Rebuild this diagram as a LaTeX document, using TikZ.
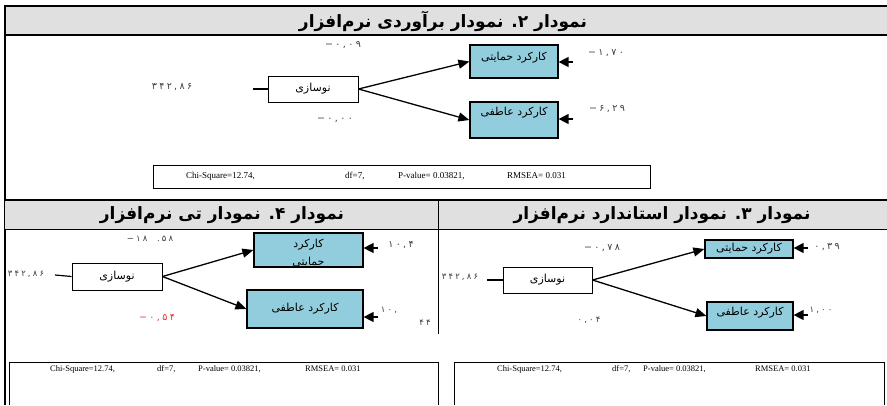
\documentclass[tikz,border=0pt]{standalone}
\usepackage{fontspec}
\usetikzlibrary{arrows.meta}
\TeXXeTstate=1
\newfontfamily\fa[Script=Arabic]{DejaVu Sans}
\newfontfamily\faNum[LetterSpace=25]{DejaVu Sans}
\newfontfamily\stat{Liberation Serif}
\definecolor{barfill}{RGB}{224,224,224}
\definecolor{boxblue}{RGB}{146,205,221}
\definecolor{numgray}{RGB}{60,60,60}
\definecolor{numred}{RGB}{225,50,50}
\begin{document}
\begin{tikzpicture}[x=1pt,y=-1pt,
    whitebox/.style={draw,fill=white,line width=1pt,inner sep=0pt,font=\fa\fontsize{11}{13}\selectfont},
    bluebox/.style={draw,fill=boxblue,line width=1.2pt,inner sep=0pt,align=center,font=\fa\fontsize{11}{18}\selectfont},
    est/.style={inner sep=0pt,text=numgray,font=\faNum\fontsize{8.5}{10}\selectfont},
    fitstat/.style={inner sep=0pt,anchor=west,font=\stat\fontsize{9}{10}\selectfont},
    bartitle/.style={inner sep=0pt,font=\fa\bfseries\fontsize{17}{20}\selectfont},
    effect/.style={line width=1.3pt,-{Triangle[length=11pt,width=9pt]}},
    inarrow/.style={line width=1.3pt,-{Triangle[length=10pt,width=10pt]}}]
  \useasboundingbox (0,0) rectangle (887,405);
  % frame and title bars
  \fill[barfill] (5,6) rectangle (887,35);
  \draw[line width=2.5pt] (4,6) -- (887,6);
  \draw[line width=1.5pt] (5,35) -- (887,35);
  \draw[line width=1.3pt] (5,5) -- (5,405);
  \fill[barfill] (5,200) rectangle (887,229);
  \draw[line width=1.5pt] (5,200) -- (887,200);
  \draw[line width=1pt] (5,229) -- (887,229);
  \draw[line width=1pt] (438,200) -- (438,334);
  \draw[line width=1pt] (9,405) -- (9,362) -- (438,362) -- (438,405);
  \draw[line width=1pt] (454,405) -- (454,362) -- (884,362) -- (884,405);
  \node[bartitle] (t-title) at (443,21) {\beginR نمودار ۲. نمودار برآوردی نرم^^^^200cافزار\endR};
  \node[bartitle] (l-title) at (222,215) {\beginR نمودار ۴. نمودار تی نرم^^^^200cافزار\endR};
  \node[bartitle] (r-title) at (662,215) {\beginR نمودار ۳. نمودار استاندارد نرم^^^^200cافزار\endR};

  % top diagram
  \node[whitebox,minimum width=90pt,minimum height=26pt] (t-n) at (313,89) {نوسازی};
  \node[bluebox,minimum width=88pt,text height=15pt,text depth=18pt] (t-h) at (514,61.5) {\beginR کارکرد حمایتی\endR};
  \node[bluebox,minimum width=88pt,text height=13pt,text depth=23pt] (t-a) at (514,120) {\beginR کارکرد عاطفی\endR};
  \coordinate (t-nin) at (253,89);
  \coordinate (t-hin) at (573,62);
  \coordinate (t-ain) at (573,119);
  \draw[line width=1.2pt] (t-nin) -- (t-n.west);
  \draw[effect] (t-n.east) -- (t-h.west);
  \draw[effect] (t-n.east) -- (t-a.west);
  \draw[inarrow] (t-hin) -- (t-hin -| t-h.east);
  \draw[inarrow] (t-ain) -- (t-ain -| t-a.east);
  \node[est,font=\faNum\fontsize{9.5}{11}\selectfont] (t-v) at (172,87) {۳۴۲,۸۶};
  \node[est,font=\faNum\fontsize{9.5}{11}\selectfont] (t-p1) at (343,45) {−۰,۰۹};
  \node[est,font=\faNum\fontsize{9.5}{11}\selectfont] (t-p2) at (335,120) {−۰,۰۰};
  \node[est,font=\faNum\fontsize{9.5}{11}\selectfont] (t-e1) at (606,53) {−۱,۷۰};
  \node[est,font=\faNum\fontsize{9.5}{11}\selectfont] (t-e2) at (607,109) {−۶,۲۹};
  \draw[line width=1pt] (153,165) rectangle (650,188);
  \node[fitstat] (t-chi) at (186,176) {Chi-Square=12.74,};
  \node[fitstat] (t-df) at (345,176) {df=7,};
  \node[fitstat] (t-pv) at (398,176) {P-value= 0.03821,};
  \node[fitstat] (t-rm) at (507,176) {RMSEA= 0.031};

  % left diagram
  \node[whitebox,minimum width=90pt,minimum height=27pt] (l-n) at (117,276.5) {نوسازی};
  \node[bluebox,minimum width=109pt,text height=32pt,text depth=2pt] (l-h) at (308.5,250) {\beginR کارکرد\endR\\\beginR حمایتی\endR};
  \node[bluebox,minimum width=116pt,minimum height=38pt] (l-a) at (305,309) {\beginR کارکرد عاطفی\endR};
  \coordinate (l-nin) at (55,275);
  \coordinate (l-hin) at (378,248);
  \coordinate (l-ain) at (378,317);
  \draw[line width=1.2pt] (l-nin) -- (l-n.west);
  \draw[effect] (l-n.east) -- (l-h.west);
  \draw[effect] (l-n.east) -- (l-a.west);
  \draw[inarrow] (l-hin) -- (l-hin -| l-h.east);
  \draw[inarrow] (l-ain) -- (l-ain -| l-a.east);
  \node[est] (l-v) at (26,274) {۳۴۲,۸۶};
  \node[est] (l-p1) at (150,239) {−۱۸\ \ .۵۸};
  \node[est,text=numred,font=\faNum\fontsize{9.5}{11}\selectfont] (l-p2) at (157,318) {−۰,۵۴};
  \node[est,font=\faNum\fontsize{9.5}{11}\selectfont] (l-e1) at (401,245) {۱۰,۴};
  \node[est] (l-e2) at (389,310) {۱۰,};
  \node[est] (l-e3) at (425,323) {۴۴};
  \node[fitstat,font=\stat\fontsize{8.5}{10}\selectfont] (l-chi) at (50,369) {Chi-Square=12.74,};
  \node[fitstat,font=\stat\fontsize{8.5}{10}\selectfont] (l-df) at (157,369) {df=7,};
  \node[fitstat,font=\stat\fontsize{8.5}{10}\selectfont] (l-pv) at (198,369) {P-value= 0.03821,};
  \node[fitstat,font=\stat\fontsize{8.5}{10}\selectfont] (l-rm) at (305,369) {RMSEA= 0.031};

  % right diagram
  \node[whitebox,minimum width=89pt,minimum height=26pt] (r-n) at (547.5,280) {نوسازی};
  \node[bluebox,minimum width=88pt,minimum height=18pt] (r-h) at (749,249) {\beginR کارکرد حمایتی\endR};
  \node[bluebox,minimum width=86pt,text height=13pt,text depth=15pt] (r-a) at (750,316) {\beginR کارکرد عاطفی\endR};
  \coordinate (r-nin) at (487,280);
  \coordinate (r-hin) at (808,248);
  \coordinate (r-ain) at (808,315);
  \draw[line width=1.2pt] (r-nin) -- (r-n.west);
  \draw[effect] (r-n.east) -- (r-h.west);
  \draw[effect] (r-n.east) -- (r-a.west);
  \draw[inarrow] (r-hin) -- (r-hin -| r-h.east);
  \draw[inarrow] (r-ain) -- (r-ain -| r-a.east);
  \node[est] (r-v) at (460,277) {۳۴۲,۸۶};
  \node[est,font=\faNum\fontsize{9.5}{11}\selectfont] (r-p1) at (602,248) {−۰,۷۸};
  \node[est] (r-p2) at (589,320) {۰,۰۴};
  \node[est,font=\faNum\fontsize{9.5}{11}\selectfont] (r-e1) at (827,247) {۰,۳۹};
  \node[est] (r-e2) at (821,310) {۱,۰۰};
  \node[fitstat,font=\stat\fontsize{8.5}{10}\selectfont] (r-chi) at (497,369) {Chi-Square=12.74,};
  \node[fitstat,font=\stat\fontsize{8.5}{10}\selectfont] (r-df) at (612,369) {df=7,};
  \node[fitstat,font=\stat\fontsize{8.5}{10}\selectfont] (r-pv) at (643,369) {P-value= 0.03821,};
  \node[fitstat,font=\stat\fontsize{8.5}{10}\selectfont] (r-rm) at (755,369) {RMSEA= 0.031};
\end{tikzpicture}
\end{document}
